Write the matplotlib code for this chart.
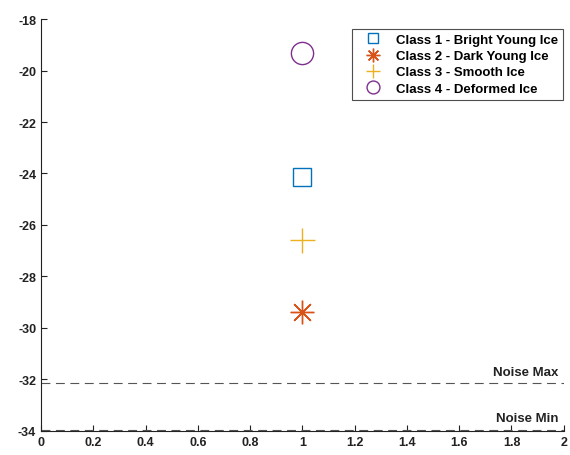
import matplotlib
matplotlib.use("Agg")
from matplotlib import pyplot as plt

##-----------------------------------------------------------------------------

class_names = ["Class 1 - Bright Young Ice", "Class 2 - Dark Young Ice",
               "Class 3 - Smooth Ice", "Class 4 - Deformed Ice"]
class_x = [1, 1, 1, 1]
class_y = [-24.15, -29.38, -26.58, -19.32]
markers = ["s", (8, 2, 0), "+", "o"]
colors = ["#0072BD", "#D95319", "#EDB120", "#7E2F8E"]
marker_sizes = [13, 17, 18, 16]

noise_max = -32.15
noise_min = -33.95

##-----------------------------------------------------------------------------

plt.rcParams['font.family'] = ['Liberation Sans', 'DejaVu Sans']
plt.rcParams['font.weight'] = 'bold'
plt.rcParams['axes.unicode_minus'] = False

fig = plt.figure(figsize=(5.7, 4.56), dpi=100)
ax = fig.add_axes([0.072, 0.053, 0.917, 0.903])

for name, x, y, m, c, s in zip(class_names, class_x, class_y, markers, colors, marker_sizes):
    ax.plot(x, y, marker=m, ms=s, mec=c, mfc="none", mew=1.0, ls="none", label=name)

ax.axhline(noise_max, color="#555555", lw=0.8, ls=(0, (8, 5)))
ax.axhline(noise_min, color="#555555", lw=0.8, ls=(0, (8, 5)))
ax.text(1.98, noise_max + 0.22, "Noise Max", ha="right", va="bottom", fontsize=9.5, fontweight="bold", color="#222222")
ax.text(1.98, noise_min + 0.22, "Noise Min", ha="right", va="bottom", fontsize=9.5, fontweight="bold", color="#222222")

ax.set_xlim(0, 2)
ax.set_ylim(-34, -18)
ax.set_xticks([0, 0.2, 0.4, 0.6, 0.8, 1, 1.2, 1.4, 1.6, 1.8, 2])
ax.set_xticklabels(["0", "0.2", "0.4", "0.6", "0.8", "1", "1.2", "1.4", "1.6", "1.8", "2"])
ax.set_yticks(range(-34, -17, 2))
ax.tick_params(direction="in", length=4, width=0.8, labelsize=9, colors="#222222")
ax.spines["top"].set_visible(False)
ax.spines["right"].set_visible(False)
for sp in ["left", "bottom"]:
    ax.spines[sp].set_linewidth(0.8)
    ax.spines[sp].set_color("#222222")

leg = ax.legend(loc="upper right", bbox_to_anchor=(0.999, 0.977), fontsize=9.5, markerscale=0.58,
                frameon=True, fancybox=False, edgecolor="#222222", handlelength=2.3,
                handletextpad=0.6, labelspacing=0.3, borderpad=0.4, borderaxespad=0.0)
leg.get_frame().set_linewidth(0.8)

fig.savefig("out.png", dpi=100)
